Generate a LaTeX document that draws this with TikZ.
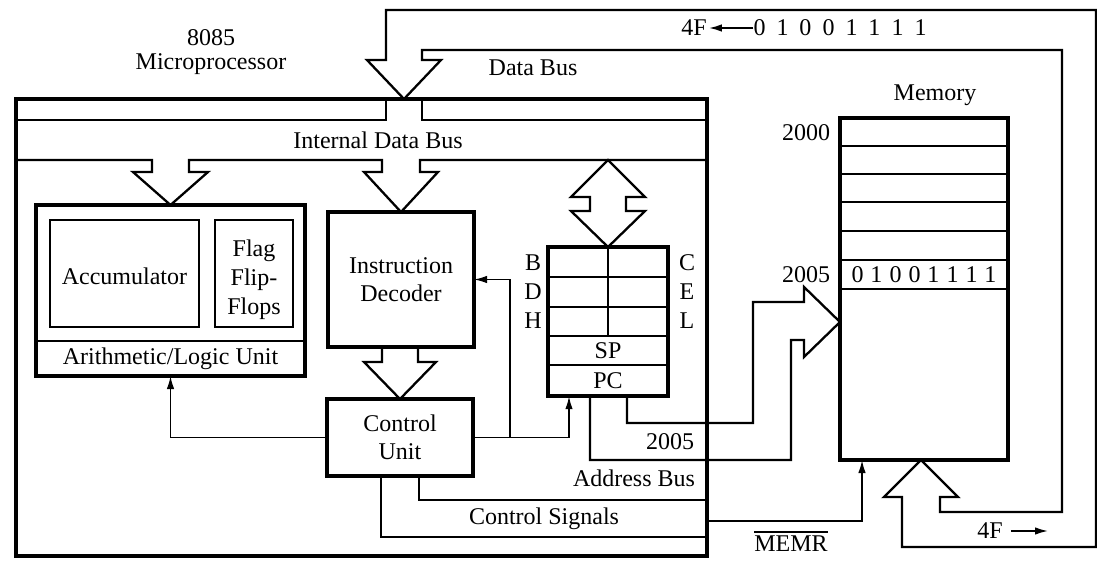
\documentclass[tikz,border=0pt]{standalone}
\usepackage{fontspec}
\setmainfont{Liberation Serif}
\usetikzlibrary{arrows.meta}
\newcommand\dgf{\fontsize{24}{28}\selectfont}
\newcommand\bitsA{0\hspace{11pt}1\hspace{11pt}0\hspace{11pt}0\hspace{11pt}1\hspace{11pt}1\hspace{11pt}1\hspace{11pt}1}
\newcommand\bitsB{0\hspace{7pt}1\hspace{7pt}0\hspace{7pt}0\hspace{7pt}1\hspace{7pt}1\hspace{7pt}1\hspace{7pt}1}
\begin{document}
\begin{tikzpicture}[x=1pt,y=-1pt,
  box/.style={draw, line width=3.2pt, inner sep=0pt, outer sep=0pt},
  ibox/.style={draw, line width=2.2pt, inner sep=0pt, outer sep=0pt},
  txt/.style={font=\dgf, inner sep=0pt, align=center},
  busl/.style={line width=2.3pt, line join=miter, line cap=butt},
  rowl/.style={line width=2pt},
  sig/.style={line width=1.7pt},
  arr/.style={-{Latex[length=13pt,width=7.5pt]}},
]
\useasboundingbox (0,0) rectangle (1097,564);

% ---------- boxes ----------
\node[box, minimum width=691pt, minimum height=457pt] (cpu) at (361.5,327.5) {};
\node[box, minimum width=269pt, minimum height=171pt] (alu) at (170.5,290.5) {};
\node[ibox, txt, minimum width=149pt, minimum height=107pt] (acc) at (124.5,273.5) {};
\node[txt] (acct) at (124.5,276) {Accumulator};
\node[ibox, minimum width=78pt, minimum height=107pt] (flag) at (254,273.5) {};
\node[txt, font=\fontsize{24}{29}\selectfont] (flagt) at (254,280) {Flag\\Flip-\\Flops};
\draw[rowl] (alu.west |- 0,341) -- (alu.east |- 0,341);
\node[txt] (alut) at (170.5,359) {Arithmetic/Logic Unit};

\node[box, txt, minimum width=146pt, minimum height=135pt] (id) at (401,279.5) {Instruction\\Decoder};
\node[box, txt, minimum width=146pt, minimum height=77pt] (cu) at (400,437.5) {Control\\Unit};

% registers
\node[box, minimum width=120pt, minimum height=149pt] (reg) at (608,321.5) {};
\foreach \yy in {277,307,336,365} \draw[rowl] (reg.west |- 0,\yy) -- (reg.east |- 0,\yy);
\draw[rowl] (reg.north) -- (608,336);
\node[txt] (sp) at (608,350.5) {SP};
\node[txt, minimum width=120pt, minimum height=31pt] (pc) at (608,380.5) {PC};
\node[txt] (rb) at (533,263) {B};
\node[txt] (rd) at (533,292) {D};
\node[txt] (rh) at (533,321) {H};
\node[txt] (rc) at (687,263) {C};
\node[txt] (re) at (687,292) {E};
\node[txt] (rl) at (687,321) {L};

% memory
\node[box, minimum width=168pt, minimum height=342pt] (mem) at (924,289) {};
\foreach \yy in {146,174,202,231,260,289} \draw[rowl] (mem.west |- 0,\yy) -- (mem.east |- 0,\yy);
\node[txt] (mbits) at (924,274.5) {\bitsB};
\node[txt] (memt) at (935,95) {Memory};
\node[txt] (a2000) at (806,133) {2000};
\node[txt] (a2005) at (806,275) {2005};

% ---------- labels ----------
\node[txt] (t8085) at (211,38) {8085};
\node[txt] (tmp) at (211,64) {Microprocessor};
\node[txt] (tdb) at (533,68) {Data Bus};
\node[txt] (tidb) at (378,140) {Internal Data Bus};
\node[txt] (f1) at (694,28) {4F};
\node[txt] (b1) at (840,28) {\bitsA};
\node[txt] (c2005) at (670,442) {2005};
\node[txt] (tab) at (634,478) {Address Bus};
\node[txt] (tcs) at (544,519) {Control Signals};
\node[txt] (tmemr) at (791,544) {MEMR};
\draw[line width=1.4pt] ([yshift=4pt]tmemr.north west) -- ([yshift=4pt]tmemr.north east);
\node[txt] (f2) at (990,531) {4F};
\coordinate (f2end) at (1048,531);

\draw[sig,arr] (b1.west) -- ([xshift=2pt]f1.east);
\draw[sig,arr] ([xshift=8pt]f2.east) -- (f2end);

% ---------- data bus (external) ----------
\coordinate (dtip) at (404,99);
\coordinate (mtip) at (921,460);
\draw[busl] (dtip) -- (367,60) -- (386,60) -- (386,10) -- (1096,10) -- (1096,547) -- (902,547) -- (902,497) -- (884,497) -- (mtip);
\draw[busl] (dtip) -- (441,60) -- (422,60) -- (422,50) -- (1062,50) -- (1062,512) -- (940,512) -- (940,497) -- (958,497) -- (mtip);

% ---------- internal data bus ----------
\draw[busl] (386,99) -- (386,120) -- (cpu.west |- 0,120);
\draw[busl] (422,99) -- (422,120) -- (cpu.east |- 0,120);
\draw[busl] (cpu.west |- 0,160) -- (152,160) -- (152,172) -- (133,172) -- (alu.north) -- (208,172) -- (189,172) -- (189,160)
  -- (382,160) -- (382,172) -- (364,172) -- (id.north) -- (438,172) -- (420,172) -- (420,160) -- (cpu.east |- 0,160);
\draw[busl] (608,160) -- (571,197) -- (590,197) -- (590,211) -- (571,211) -- (reg.north) -- (645,211) -- (626,211) -- (626,197) -- (645,197) -- cycle;

% decoder -> control unit
\draw[busl] (382,347) -- (382,362) -- (364,362) -- (cu.north) -- (436,362) -- (418,362) -- (418,347);

% ---------- address bus ----------
\coordinate (atip) at (840,322);
\draw[busl] ([xshift=19pt]pc.south) -- (627,423) -- (753,423) -- (753,302) -- (804,302) -- (804,287) -- (atip);
\draw[busl] ([xshift=-18pt]pc.south) -- (590,460) -- (791,460) -- (791,340) -- (804,340) -- (804,357) -- (atip);

% ---------- control lines ----------
\draw[sig,arr] (cu.west) -| (alu.south);
\draw[sig,arr] (cu.east) -| ([xshift=-39pt]pc.south);
\coordinate (br) at (510,437.5);
\draw[sig,arr] (br) |- (id.east);

\draw[busl] ([xshift=-19pt]cu.south) |- (cpu.east |- 0,537);
\draw[busl] ([xshift=19pt]cu.south) |- (cpu.east |- 0,500);
\draw[sig,arr] (cpu.east |- 0,521) -| ([xshift=-62pt]mem.south);
\end{tikzpicture}
\end{document}
